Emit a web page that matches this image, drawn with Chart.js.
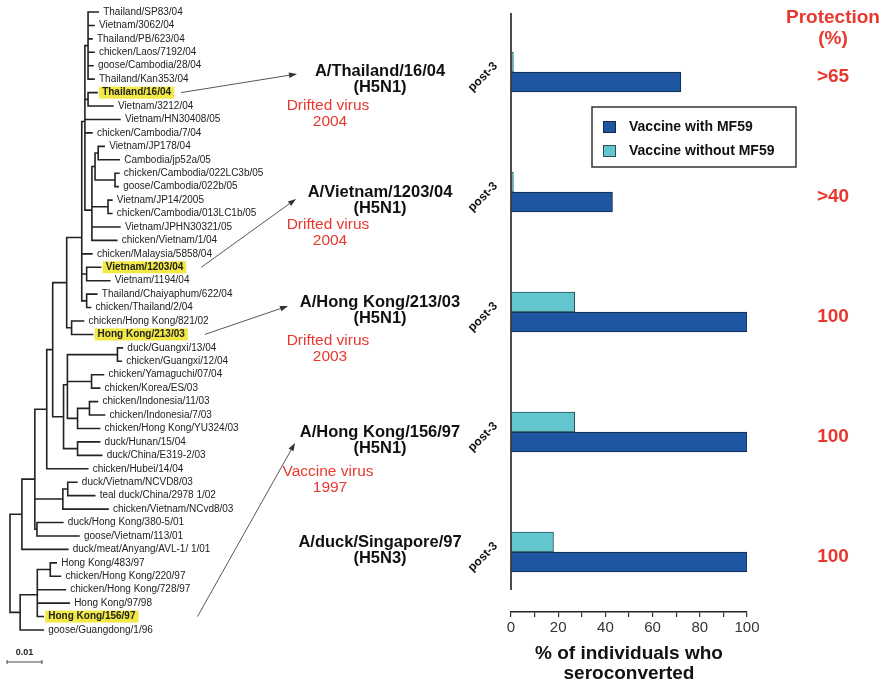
<!DOCTYPE html>
<html>
<head>
<meta charset="utf-8">
<script src="https://cdn.jsdelivr.net/npm/chart.js@4.4.1/dist/chart.umd.min.js"></script>
<style>
  html, body { margin: 0; padding: 0; background: #fff; }
  #wrap { position: relative; width: 885px; height: 684px; overflow: hidden; }
  #wrap canvas { position: absolute; left: 0; top: 0; }
</style>
</head>
<body>
<div id="wrap">
  <canvas id="treeChart" width="300" height="684"></canvas>
  <canvas id="barChart" width="885" height="684"></canvas>
</div>
<script>
// ---- data: seroconversion per strain ----
const strains     = ['A/Thailand/16/04', 'A/Vietnam/1203/04', 'A/Hong Kong/213/03', 'A/Hong Kong/156/97', 'A/duck/Singapore/97'];
const subtypes    = ['(H5N1)', '(H5N1)', '(H5N1)', '(H5N1)', '(H5N3)'];
const virusNotes  = [['Drifted virus', '2004'], ['Drifted virus', '2004'], ['Drifted virus', '2003'], ['Vaccine virus', '1997'], null];
const withMF59    = [72, 43, 100, 100, 100];
const withoutMF59 = [1, 1, 27, 27, 18];
const protection  = ['>65', '>40', '100', '100', '100'];
const xTicks      = [0, 20, 40, 60, 80, 100];

// ---- data: HA phylogeny (branch lengths in substitutions/site) ----
const treeNewick =
  "(" +
   "(" +
    "(" +
     "(" +
      "(" +
       "(" +
        "(" +
         "(" +
          "(Thailand/SP83/04:0.0029,Vietnam/3062/04:0.0017,Thailand/PB/623/04:0.0011,chicken/Laos/7192/04:0.0017,goose/Cambodia/28/04:0.0014,Thailand/Kan353/04:0.0017):0.0009," +
          "(Thailand/16/04:0.0026,Vietnam/3212/04:0.0071):0.0009," +
          "Vietnam/HN30408/05:0.0100,chicken/Cambodia/7/04:0.0020," +
          "(((Vietnam/JP178/04:0.0017,Cambodia/jp52a/05:0.0060):0.0009,(chicken/Cambodia/022LC3b/05:0.0011,goose/Cambodia/022b/05:0.0009):0.0057):0.0009," +
          "(Vietnam/JP14/2005:0.0011,chicken/Cambodia/013LC1b/05:0.0011):0.0046,Vietnam/JPHN30321/05:0.0080,chicken/Vietnam/1/04:0.0071):0.0020" +
         "):0.0009," +
         "chicken/Malaysia/5858/04:0.0029,(Vietnam/1203/04:0.0040,Vietnam/1194/04:0.0066):0.0014,(Thailand/Chaiyaphum/622/04:0.0029,chicken/Thailand/2/04:0.0011):0.0014" +
        "):0.0043," +
        "(chicken/Hong Kong/821/02:0.0034,Hong Kong/213/03:0.0060):0.0014" +
       "):0.0040," +
       "(((duck/Guangxi/13/04:0.0014,chicken/Guangxi/12/04:0.0011):0.0143,(chicken/Yamaguchi/07/04:0.0034,chicken/Korea/ES/03:0.0023):0.0069," +
       "((chicken/Indonesia/11/03:0.0023,chicken/Indonesia/7/03:0.0043):0.0034,chicken/Hong Kong/YU324/03:0.0063):0.0029):0.0011," +
       "(duck/Hunan/15/04:0.0063,duck/China/E319-2/03:0.0069):0.0040):0.0031" +
      "):0.0017," +
      "chicken/Hubei/14/04:0.0117" +
     "):0.0034," +
     "((duck/Vietnam/NCVD8/03:0.0026,teal duck/China/2978 1/02:0.0077):0.0014,chicken/Vietnam/NCvd8/03:0.0129):0.0080," +
     "(duck/Hong Kong/380-5/01:0.0074,goose/Vietnam/113/01:0.0120):0.0006" +
    "):0.0037," +
    "duck/meat/Anyang/AVL-1/ 1/01:0.0131" +
   "):0.0034," +
   "(((Hong Kong/483/97:0.0017,chicken/Hong Kong/220/97:0.0029):0.0037,chicken/Hong Kong/728/97:0.0080,Hong Kong/97/98:0.0091,Hong Kong/156/97:0.0017):0.0049,goose/Guangdong/1/96:0.0066):0.0029" +
  ");";
const highlighted    = ['Thailand/16/04', 'Vietnam/1203/04', 'Hong Kong/213/03', 'Hong Kong/156/97'];
const arrowFromLeaf  = ['Thailand/16/04', 'Vietnam/1203/04', 'Hong Kong/213/03', 'Hong Kong/156/97'];
const scaleBarLength = 0.01;
// ----------------------------------------------------------------

const FONT = '"Liberation Sans", Arial, Helvetica, sans-serif';
Chart.defaults.font.family = FONT;

// newick -> nested nodes
function parseNewick(s) {
  let i = 0;
  function node() {
    const n = { name: '', len: 0, children: [] };
    if (s[i] === '(') {
      i++;
      n.children.push(node());
      while (s[i] === ',') { i++; n.children.push(node()); }
      i++; // ')'
    }
    while (i < s.length && !':,);'.includes(s[i])) n.name += s[i++];
    if (s[i] === ':') {
      i++;
      let num = '';
      while (i < s.length && !',);'.includes(s[i])) num += s[i++];
      n.len = parseFloat(num);
    }
    return n;
  }
  return node();
}

const treeRoot = parseNewick(treeNewick);
const leaves = [];
(function walk(n, x0) {
  n.x = x0 + n.len;
  if (n.children.length) {
    n.children.forEach(c => walk(c, n.x));
    n.y = n.children.reduce((a, c) => a + c.y, 0) / n.children.length;
  } else {
    n.y = leaves.length;
    leaves.push(n);
  }
})(treeRoot, 0);
const leafByName = Object.fromEntries(leaves.map(l => [l.name, l]));

// rectangular cladogram segments, gaps between them
const segs = [];
(function addSegs(n) {
  if (!n.children.length) return;
  const ys = n.children.map(c => c.y);
  segs.push({ x: n.x, y: Math.min(...ys) }, { x: n.x, y: Math.max(...ys) }, { x: null, y: null });
  n.children.forEach(c => {
    segs.push({ x: n.x, y: c.y }, { x: c.x, y: c.y }, { x: null, y: null });
    addSegs(c);
  });
})(treeRoot);

const LABEL_GAP = 5;
function leafLabelBox(ctx, chart, leaf) {
  const hl = highlighted.includes(leaf.name);
  ctx.font = (hl ? 'bold ' : '') + '10px ' + FONT;
  const px = chart.scales.x.getPixelForValue(leaf.x) + LABEL_GAP;
  const py = chart.scales.y.getPixelForValue(leaf.y);
  return { hl, px, py, w: ctx.measureText(leaf.name).width };
}

const treeLabels = {
  id: 'treeLabels',
  afterDatasetsDraw(chart) {
    const { ctx, scales: { x }, chartArea } = chart;
    ctx.save();
    ctx.textBaseline = 'middle';
    ctx.textAlign = 'left';
    leaves.forEach(leaf => {
      const b = leafLabelBox(ctx, chart, leaf);
      if (b.hl) {
        ctx.fillStyle = '#f2e944';
        ctx.fillRect(b.px - 3, b.py - 6, b.w + 6, 12);
      }
      ctx.fillStyle = '#222';
      ctx.fillText(leaf.name, b.px, b.py);
    });
    // scale bar
    const len = x.getPixelForValue(scaleBarLength) - x.getPixelForValue(0);
    const sx0 = x.getPixelForValue(0) - 3, sx1 = sx0 + len, sy = chartArea.bottom + 32;
    ctx.strokeStyle = '#444';
    ctx.lineWidth = 1;
    ctx.beginPath();
    ctx.moveTo(sx0, sy); ctx.lineTo(sx1, sy);
    ctx.moveTo(sx0, sy - 2); ctx.lineTo(sx0, sy + 2);
    ctx.moveTo(sx1, sy - 2); ctx.lineTo(sx1, sy + 2);
    ctx.stroke();
    ctx.fillStyle = '#222';
    ctx.font = 'bold 9px ' + FONT;
    ctx.textAlign = 'center';
    ctx.fillText(String(scaleBarLength), (sx0 + sx1) / 2, sy - 9);
    ctx.restore();
  }
};

const treeChart = new Chart(document.getElementById('treeChart'), {
  type: 'line',
  data: {
    datasets: [{
      data: segs,
      borderColor: '#222',
      borderWidth: 1.6,
      borderCapStyle: 'square',
      pointRadius: 0,
      tension: 0,
      spanGaps: false,
      clip: false
    }]
  },
  options: {
    animation: false,
    responsive: false,
    layout: { padding: { left: 10, right: 10, top: 12, bottom: 54 } },
    scales: {
      x: { type: 'linear', display: false, min: 0, max: 0.08 },
      y: { type: 'linear', display: false, min: 0, max: leaves.length - 1, reverse: true }
    },
    plugins: { legend: { display: false }, tooltip: { enabled: false } }
  },
  plugins: [treeLabels]
});

// ---- layout of the annotations around the bar plot ----
const RED = '#e8382f';
const strainDy  = [-1, 0, -10, 0, -10];
const noteDy    = [34, 33, 29, 40, 0];
const arrowGap  = [10, 18, 20, 62];
const arrowEnd  = [[297, 2], [296, 7], [288, -6], [295, 11]];

function drawArrow(ctx, x1, y1, x2, y2) {
  const a = Math.atan2(y2 - y1, x2 - x1), hl = 8, hw = 2.8;
  ctx.beginPath();
  ctx.moveTo(x1, y1);
  ctx.lineTo(x2 - hl * Math.cos(a), y2 - hl * Math.sin(a));
  ctx.stroke();
  ctx.beginPath();
  ctx.moveTo(x2, y2);
  ctx.lineTo(x2 - hl * Math.cos(a) + hw * Math.sin(a), y2 - hl * Math.sin(a) - hw * Math.cos(a));
  ctx.lineTo(x2 - hl * Math.cos(a) - hw * Math.sin(a), y2 - hl * Math.sin(a) + hw * Math.cos(a));
  ctx.closePath();
  ctx.fill();
}

const annot = {
  id: 'annot',
  afterDraw(chart) {
    const { ctx, chartArea: ca, scales: { x, y } } = chart;
    ctx.save();

    // baseline at 0 %, stops short of the detached x axis
    const x0 = x.getPixelForValue(0);
    ctx.strokeStyle = '#111';
    ctx.lineWidth = 1.5;
    ctx.beginPath();
    ctx.moveTo(x0, ca.top + 1);
    ctx.lineTo(x0, ca.bottom - 22);
    ctx.stroke();

    ctx.textBaseline = 'middle';
    strains.forEach((s, i) => {
      const cy = y.getPixelForValue(i);

      // strain names
      ctx.fillStyle = '#111';
      ctx.textAlign = 'center';
      ctx.font = 'bold 16.5px ' + FONT;
      ctx.fillText(s, ca.left - 131, cy + strainDy[i]);
      ctx.fillText(subtypes[i], ca.left - 131, cy + strainDy[i] + 16);

      // red notes
      if (virusNotes[i]) {
        ctx.fillStyle = RED;
        ctx.font = '15.5px ' + FONT;
        ctx.fillText(virusNotes[i][0], ca.left - 183, cy + noteDy[i]);
        ctx.fillText(virusNotes[i][1], ca.left - 181, cy + noteDy[i] + 16);
      }

      // post-3
      ctx.save();
      ctx.translate(ca.left - 28, cy + 5);
      ctx.rotate(-Math.PI / 4);
      ctx.fillStyle = '#111';
      ctx.font = 'bold 12px ' + FONT;
      ctx.fillText('post-3', 0, 0);
      ctx.restore();

      // protection values
      ctx.fillStyle = RED;
      ctx.font = 'bold 19px ' + FONT;
      ctx.fillText(protection[i], ca.right + 86, cy + 5);
    });

    ctx.fillStyle = RED;
    ctx.font = 'bold 19px ' + FONT;
    ctx.fillText('Protection', ca.right + 86, ca.top + 6);
    ctx.fillText('(%)', ca.right + 86, ca.top + 27);

    // legend box
    const lx = ca.left + 81, ly = ca.top + 95, lw = 204, lh = 60;
    ctx.fillStyle = '#fff';
    ctx.fillRect(lx, ly, lw, lh);
    ctx.strokeStyle = '#333';
    ctx.lineWidth = 1.5;
    ctx.strokeRect(lx, ly, lw, lh);
    [1, 0].forEach((di, k) => {
      const ds = chart.data.datasets[di];
      const iy = ly + 20 + k * 24;
      ctx.fillStyle = ds.backgroundColor;
      ctx.fillRect(lx + 11, iy - 6, 13, 12);
      ctx.strokeStyle = ds.borderColor;
      ctx.lineWidth = 1;
      ctx.strokeRect(lx + 11.5, iy - 5.5, 12, 11);
      ctx.fillStyle = '#111';
      ctx.textAlign = 'left';
      ctx.font = 'bold 14px ' + FONT;
      ctx.fillText(ds.label, lx + 37, iy);
    });

    // arrows from the highlighted tree tips
    ctx.strokeStyle = '#444';
    ctx.fillStyle = '#333';
    ctx.lineWidth = 0.9;
    arrowFromLeaf.forEach((name, i) => {
      const b = leafLabelBox(ctx, treeChart, leafByName[name]);
      const cy = y.getPixelForValue(i);
      drawArrow(ctx, b.px + b.w + arrowGap[i], b.py, arrowEnd[i][0], cy + arrowEnd[i][1]);
    });

    ctx.restore();
  }
};

new Chart(document.getElementById('barChart'), {
  type: 'bar',
  data: {
    labels: strains,
    datasets: [
      { label: 'Vaccine without MF59', data: withoutMF59, backgroundColor: '#63c5cd', borderColor: '#2b4f57', borderWidth: 1, barThickness: 20 },
      { label: 'Vaccine with MF59', data: withMF59, backgroundColor: '#1f56a1', borderColor: '#14284a', borderWidth: 1, barThickness: 20 }
    ]
  },
  options: {
    indexAxis: 'y',
    animation: false,
    responsive: false,
    layout: { padding: { left: 511, right: 138, top: 12, bottom: 0 } },
    scales: {
      y: { display: false },
      x: {
        min: 0, max: 100,
        ticks: {
          stepSize: 10, autoSkip: false, maxRotation: 0, padding: 2,
          color: '#333', font: { size: 15 },
          callback: v => xTicks.includes(v) ? String(v) : ''
        },
        grid: { drawOnChartArea: false, drawTicks: true, tickLength: 5, color: '#333', lineWidth: 1.2 },
        border: { display: true, color: '#222', width: 1.5 },
        title: {
          display: true,
          text: ['% of individuals who', 'seroconverted'],
          color: '#111',
          font: { size: 19, weight: 'bold', lineHeight: '20px' },
          padding: 0
        },
        afterFit(scale) { scale.height = 72; }
      }
    },
    plugins: { legend: { display: false }, tooltip: { enabled: false } }
  },
  plugins: [annot]
});
</script>
</body>
</html>
